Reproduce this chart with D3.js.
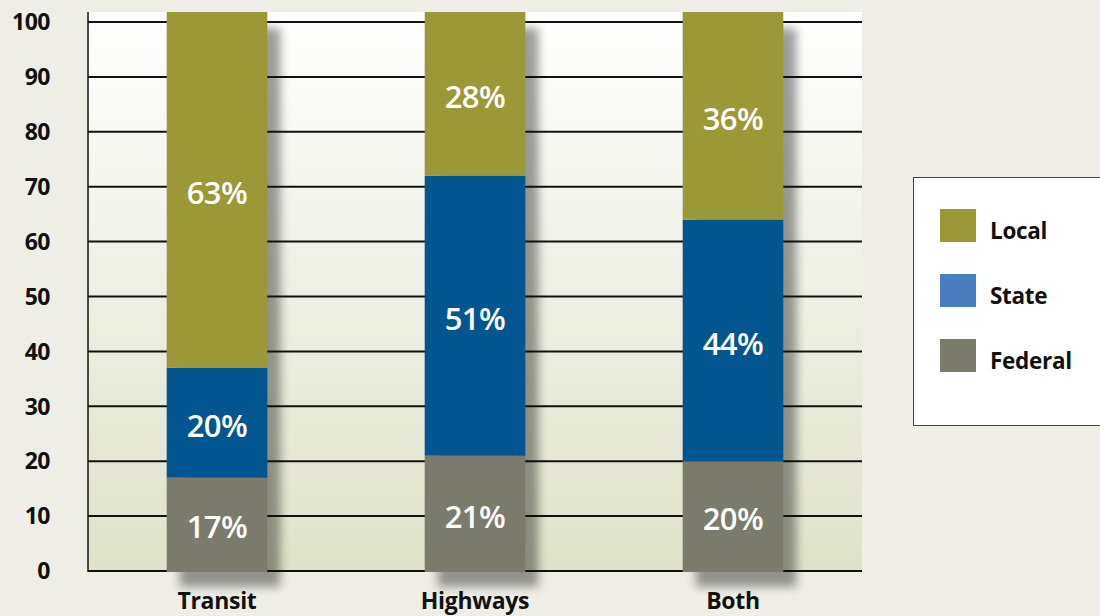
<!DOCTYPE html>
<html>
<head>
<meta charset="utf-8">
<script src="https://cdn.jsdelivr.net/npm/d3@7"></script>
<style>
  html, body { margin: 0; padding: 0; background: #eeeee6; overflow: hidden; }
  svg { display: block; }
</style>
</head>
<body>
<div id="chart"></div>
<script>
// Data
const categories = ["Transit", "Highways", "Both"]
const seriesNames = ["Federal", "State", "Local"]
const federal = [17, 21, 20]
const state = [20, 51, 44]
const local = [63, 28, 36]
const yTicks = [0, 10, 20, 30, 40, 50, 60, 70, 80, 90, 100]
const legendOrder = ["Local", "State", "Federal"]

const barColors = { Federal: "#7b7b6d", State: "#02568f", Local: "#9b9837" }
const legendColors = { Federal: "#7b7b6d", State: "#4a7dbd", Local: "#9b9837" }

const W = 1100, H = 616
const left = 88, right = 862, frameTop = 12, bottom = 571, top100 = 22

const rows = categories.map((c, i) => ({ cat: c, Federal: federal[i], State: state[i], Local: local[i] }))
const stacked = d3.stack().keys(seriesNames)(rows)

const svg = d3.select("#chart").append("svg")
    .attr("width", W)
    .attr("height", H)

const defs = svg.append("defs")
let grad = defs.append("linearGradient")
    .attr("id", "plotbg")
    .attr("x1", 0).attr("y1", 0).attr("x2", 0).attr("y2", 1)
grad.append("stop").attr("offset", "0%").attr("stop-color", "#ffffff")
grad.append("stop").attr("offset", "55%").attr("stop-color", "#eceee0")
grad.append("stop").attr("offset", "100%").attr("stop-color", "#dfe2ca")

defs.append("filter")
    .attr("id", "blur")
    .attr("x", "-30%").attr("y", "-10%").attr("width", "160%").attr("height", "120%")
    .append("feGaussianBlur")
    .attr("stdDeviation", 5)

const x = d3.scaleBand().domain(categories).range([left, right]).paddingInner(0.61).paddingOuter(0.305)
const y = d3.scaleLinear().domain([0, 100]).range([bottom, top100])

// top segment runs up to the frame edge, like the original
let segTop = d => d.key === "Local" ? frameTop : y(d.v[1])
let segBottom = d => y(d.v[0])

// plot background
svg.append("rect")
    .attr("x", left).attr("y", frameTop)
    .attr("width", right - left).attr("height", bottom - frameTop)
    .attr("fill", "url(#plotbg)")

// bar shadows
svg.append("g")
    .selectAll("rect")
    .data(categories)
    .join("rect")
    .attr("x", d => x(d) + 13)
    .attr("y", frameTop + 16)
    .attr("width", x.bandwidth())
    .attr("height", bottom - frameTop)
    .attr("fill", "#000")
    .attr("opacity", 0.38)
    .attr("filter", "url(#blur)")

// gridlines
svg.append("g")
    .selectAll("line")
    .data(yTicks)
    .join("line")
    .attr("x1", left).attr("x2", right)
    .attr("y1", d => y(d)).attr("y2", d => y(d))
    .attr("stroke", "#111")
    .attr("stroke-width", 2)

// y axis line
svg.append("line")
    .attr("x1", left).attr("x2", left)
    .attr("y1", frameTop).attr("y2", bottom + 1)
    .attr("stroke", "#111")
    .attr("stroke-width", 1.5)

// y tick labels
svg.append("g")
    .selectAll("text")
    .data(yTicks)
    .join("text")
    .attr("x", 50)
    .attr("y", d => y(d))
    .attr("dy", "0.36em")
    .attr("text-anchor", "end")
    .attr("font-family", "Open Sans")
    .attr("font-weight", 700)
    .attr("font-size", 23)
    .attr("letter-spacing", -0.5)
    .attr("fill", "#111")
    .text(d => d)

// stacked bars
const layers = svg.append("g")
    .selectAll("g")
    .data(stacked)
    .join("g")
    .attr("fill", d => barColors[d.key])

layers.selectAll("rect")
    .data(d => d.map(v => ({ key: d.key, v: v })))
    .join("rect")
    .attr("x", d => x(d.v.data.cat))
    .attr("y", segTop)
    .attr("width", x.bandwidth())
    .attr("height", d => segBottom(d) - segTop(d) + (d.key === "Federal" ? 1 : 0))

// value labels
layers.selectAll("text")
    .data(d => d.map(v => ({ key: d.key, v: v })))
    .join("text")
    .attr("x", d => x(d.v.data.cat) + x.bandwidth() / 2)
    .attr("y", d => (segTop(d) + segBottom(d)) / 2 + 3)
    .attr("dy", "0.36em")
    .attr("text-anchor", "middle")
    .attr("font-family", "Open Sans")
    .attr("font-weight", 600)
    .attr("font-size", 31)
    .attr("letter-spacing", -0.5)
    .attr("fill", "#fff")
    .text(d => (d.v[1] - d.v[0]) + "%")

// category labels
svg.append("g")
    .selectAll("text")
    .data(categories)
    .join("text")
    .attr("x", d => x(d) + x.bandwidth() / 2)
    .attr("y", 609)
    .attr("text-anchor", "middle")
    .attr("font-family", "Open Sans")
    .attr("font-weight", 700)
    .attr("font-size", 23)
    .attr("letter-spacing", -0.3)
    .attr("fill", "#111")
    .text(d => d)

// legend
const legend = svg.append("g").attr("transform", "translate(913,177)")
legend.append("rect")
    .attr("x", 0.5).attr("y", 0.5)
    .attr("width", 200).attr("height", 248)
    .attr("fill", "#fff")
    .attr("stroke", "#444")
    .attr("stroke-width", 1)

const item = legend.selectAll(".item")
    .data(legendOrder)
    .join("g")
    .attr("class", "item")
    .attr("transform", (d, i) => `translate(27,${32 + i * 65})`)

item.append("rect")
    .attr("width", 36).attr("height", 33)
    .attr("fill", d => legendColors[d])

item.append("text")
    .attr("x", 50)
    .attr("y", 22)
    .attr("dy", "0.36em")
    .attr("font-family", "Open Sans")
    .attr("font-weight", 700)
    .attr("font-size", 22.5)
    .attr("letter-spacing", -0.3)
    .attr("fill", "#111")
    .text(d => d)
</script>
</body>
</html>
